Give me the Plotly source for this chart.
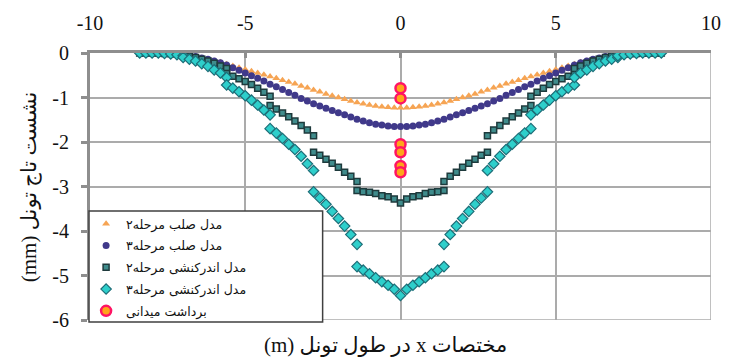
import plotly.graph_objects as go

# ---------------- data ----------------
x_smooth = [-8.4, -8.2, -8.0, -7.8, -7.6, -7.4, -7.2, -7.0, -6.8, -6.6, -6.4, -6.2, -6.0, -5.8, -5.6,
            -5.4, -5.2, -5.0, -4.8, -4.6, -4.4, -4.2, -4.0, -3.8, -3.6, -3.4, -3.2, -3.0, -2.8, -2.6,
            -2.4, -2.2, -2.0, -1.8, -1.6, -1.4, -1.2, -1.0, -0.8, -0.6, -0.4, -0.2, 0.0,
            0.2, 0.4, 0.6, 0.8, 1.0, 1.2, 1.4, 1.6, 1.8, 2.0, 2.2, 2.4, 2.6, 2.8, 3.0, 3.2, 3.4,
            3.6, 3.8, 4.0, 4.2, 4.4, 4.6, 4.8, 5.0, 5.2, 5.4, 5.6, 5.8, 6.0, 6.2, 6.4, 6.6, 6.8,
            7.0, 7.2, 7.4, 7.6, 7.8, 8.0, 8.2, 8.4]

rigid_stage2 = [0, 0, 0, -0.01, -0.01, -0.02, -0.03, -0.05, -0.07, -0.09, -0.12, -0.15, -0.18, -0.21,
                -0.25, -0.29, -0.33, -0.37, -0.41, -0.45, -0.49, -0.53, -0.57, -0.61, -0.65, -0.69,
                -0.74, -0.78, -0.83, -0.87, -0.92, -0.96, -1.00, -1.04, -1.08, -1.11, -1.14, -1.17,
                -1.19, -1.21, -1.22, -1.23, -1.23,
                -1.23, -1.22, -1.21, -1.19, -1.17, -1.14, -1.11, -1.08, -1.04, -1.00, -0.96, -0.92,
                -0.87, -0.83, -0.78, -0.74, -0.69, -0.65, -0.61, -0.57, -0.53, -0.49, -0.45, -0.41,
                -0.37, -0.33, -0.29, -0.25, -0.21, -0.18, -0.15, -0.12, -0.09, -0.07, -0.05, -0.03,
                -0.02, -0.01, -0.01, 0, 0, 0]

rigid_stage3 = [0, 0, 0, 0, -0.01, -0.01, -0.02, -0.03, -0.05, -0.08, -0.11, -0.14, -0.18, -0.22,
                -0.27, -0.33, -0.39, -0.45, -0.51, -0.57, -0.63, -0.70, -0.76, -0.82, -0.89, -0.95,
                -1.02, -1.08, -1.14, -1.19, -1.24, -1.29, -1.34, -1.39, -1.44, -1.49, -1.53, -1.57,
                -1.60, -1.62, -1.64, -1.65, -1.65,
                -1.65, -1.64, -1.62, -1.60, -1.57, -1.53, -1.49, -1.44, -1.39, -1.34, -1.29, -1.24,
                -1.19, -1.14, -1.08, -1.02, -0.95, -0.89, -0.82, -0.76, -0.70, -0.63, -0.57, -0.51,
                -0.45, -0.39, -0.33, -0.27, -0.22, -0.18, -0.14, -0.11, -0.08, -0.05, -0.03, -0.02,
                -0.01, -0.01, 0, 0, 0, 0]

x_staged = [-8.4, -8.2, -8.0, -7.8, -7.6, -7.4, -7.2, -7.0, -7.0, -6.8, -6.6, -6.4, -6.2, -6.0, -5.8,
            -5.6, -5.6, -5.4, -5.2, -5.0, -4.8, -4.6, -4.4, -4.2, -4.2, -4.0, -3.8, -3.6, -3.4, -3.2,
            -3.0, -2.8, -2.8, -2.6, -2.4, -2.2, -2.0, -1.8, -1.6, -1.4, -1.4, -1.2, -1.0, -0.8, -0.6,
            -0.4, -0.2, 0.0,
            0.2, 0.4, 0.6, 0.8, 1.0, 1.2, 1.4, 1.4, 1.6, 1.8, 2.0, 2.2, 2.4, 2.6, 2.8, 2.8, 3.0,
            3.2, 3.4, 3.6, 3.8, 4.0, 4.2, 4.2, 4.4, 4.6, 4.8, 5.0, 5.2, 5.4, 5.6, 5.6, 5.8, 6.0,
            6.2, 6.4, 6.6, 6.8, 7.0, 7.0, 7.2, 7.4, 7.6, 7.8, 8.0, 8.2, 8.4]

interaction_stage2 = [0, 0, 0, 0, -0.01, -0.01, -0.02, -0.03, -0.05, -0.07, -0.10, -0.14, -0.18, -0.23,
                      -0.29, -0.35, -0.46, -0.52, -0.58, -0.64, -0.71, -0.79, -0.88, -0.97, -1.18,
                      -1.26, -1.35, -1.43, -1.53, -1.63, -1.73, -1.86, -2.23, -2.30, -2.39, -2.48,
                      -2.57, -2.68, -2.77, -2.89, -3.09, -3.12, -3.13, -3.16, -3.21, -3.23, -3.28,
                      -3.37,
                      -3.28, -3.23, -3.21, -3.16, -3.13, -3.12, -3.09, -2.89, -2.77, -2.68, -2.57,
                      -2.48, -2.39, -2.30, -2.23, -1.86, -1.73, -1.63, -1.53, -1.43, -1.35, -1.26,
                      -1.18, -0.97, -0.88, -0.79, -0.71, -0.64, -0.58, -0.52, -0.46, -0.35, -0.29,
                      -0.23, -0.18, -0.14, -0.10, -0.07, -0.05, -0.03, -0.02, -0.01, -0.01, 0, 0, 0, 0]

interaction_stage3 = [0, 0, 0, 0, -0.01, -0.02, -0.04, -0.06, -0.10, -0.14, -0.18, -0.24, -0.30, -0.38,
                      -0.45, -0.55, -0.72, -0.79, -0.87, -0.96, -1.06, -1.17, -1.28, -1.39, -1.70,
                      -1.80, -1.92, -2.05, -2.17, -2.32, -2.49, -2.64, -3.12, -3.26, -3.40, -3.56,
                      -3.72, -3.89, -4.08, -4.30, -4.80, -4.88, -4.96, -5.05, -5.14, -5.22, -5.31,
                      -5.45,
                      -5.31, -5.22, -5.14, -5.05, -4.96, -4.88, -4.80, -4.30, -4.08, -3.89, -3.72,
                      -3.56, -3.40, -3.26, -3.12, -2.64, -2.49, -2.32, -2.17, -2.05, -1.92, -1.80,
                      -1.70, -1.39, -1.28, -1.17, -1.06, -0.96, -0.87, -0.79, -0.72, -0.55, -0.45,
                      -0.38, -0.30, -0.24, -0.18, -0.14, -0.10, -0.06, -0.04, -0.02, -0.01, 0, 0, 0, 0]

x_field = [0, 0, 0, 0, 0, 0]
field_measured = [-0.79, -1.02, -2.05, -2.23, -2.54, -2.68]

series_names = ["مدل صلب مرحله۲", "مدل صلب مرحله۳", "مدل اندرکنشی مرحله۲",
                "مدل اندرکنشی مرحله۳", "برداشت میدانی"]

x_tick_vals = [-10, -5, 0, 5, 10]
x_tick_text = ["-10", "-5", "0", "5", "10"]
y_tick_vals = [0, -1, -2, -3, -4, -5, -6]
y_tick_text = ["0", "-1", "-2", "-3", "-4", "-5", "-6"]

x_title = "مختصات x در طول تونل (m)"
y_title = "نشست تاج تونل (mm)"

# ---------------- figure ----------------
RLE, PDF = "\u202B", "\u202C"
SERIF = "Liberation Serif, DejaVu Sans"

fig = go.Figure()
fig.add_trace(go.Scatter(x=x_smooth, y=rigid_stage2, mode="markers", name=series_names[0],
                         legendgroup="g1",
                         marker=dict(symbol="triangle-up", size=7, color="#F6A453")))
fig.add_trace(go.Scatter(x=x_smooth, y=rigid_stage3, mode="markers", name=series_names[1],
                         legendgroup="g2",
                         marker=dict(symbol="circle", size=7, color="#40398A")))
fig.add_trace(go.Scatter(x=x_staged, y=interaction_stage2, mode="markers", name=series_names[2],
                         legendgroup="g3",
                         marker=dict(symbol="square", size=6, color="#3F8C8C",
                                     line=dict(color="#1E3A3C", width=1.5))))
fig.add_trace(go.Scatter(x=x_staged, y=interaction_stage3, mode="markers", name=series_names[3],
                         legendgroup="g4",
                         marker=dict(symbol="diamond", size=8, color="#2ECFCB",
                                     line=dict(color="#1D6E78", width=1.2))))
fig.add_trace(go.Scatter(x=x_field, y=field_measured, mode="markers", name=series_names[4],
                         legendgroup="g5",
                         marker=dict(symbol="circle", size=10, color="#FFA51A",
                                     line=dict(color="#FF1464", width=2.5))))

grid_col = "#ABABAB"
axis_col = "#8E8E8E"

fig.update_xaxes(range=[-10, 10], side="top", tickmode="array", tickvals=x_tick_vals,
                 ticktext=x_tick_text, showline=True, linecolor=axis_col, linewidth=3,
                 ticks="inside", ticklen=5, tickwidth=2.5, tickcolor=axis_col,
                 showgrid=True, gridcolor=grid_col, gridwidth=1.5, zeroline=False,
                 tickfont=dict(family=SERIF, size=20, color="#111111"),
                 ticklabelstandoff=12, fixedrange=True)
fig.update_yaxes(range=[-6, 0], tickmode="array", tickvals=y_tick_vals, ticktext=y_tick_text,
                 showline=True, linecolor=axis_col, linewidth=3,
                 ticks="outside", ticklen=6, tickwidth=2.5, tickcolor=axis_col,
                 showgrid=True, gridcolor=grid_col, gridwidth=1.5, zeroline=False,
                 tickfont=dict(family=SERIF, size=20, color="#111111"),
                 ticklabelstandoff=8, fixedrange=True)

shapes = [
    dict(type="line", xref="x", yref="paper", x0=10, x1=10, y0=0, y1=1,
         line=dict(color=grid_col, width=1.5), layer="below"),
    dict(type="line", xref="paper", yref="y", x0=0, x1=1, y0=-6, y1=-6,
         line=dict(color=grid_col, width=1.5), layer="below"),
    dict(type="rect", xref="paper", yref="paper", x0=-0.0016, x1=0.3746, y0=-0.0074, y1=0.408,
         fillcolor="white", line=dict(color="#404040", width=1.5), layer="above"),
]

annotations = [
    dict(text=RLE + x_title + PDF, xref="paper", yref="paper", x=0.476, y=-0.095,
         xanchor="center", yanchor="middle", showarrow=False,
         font=dict(family=SERIF, size=21, color="#111111")),
    dict(text=RLE + y_title + PDF, xref="paper", yref="paper", x=-0.097, y=0.5,
         xanchor="center", yanchor="middle", showarrow=False, textangle=-90,
         font=dict(family=SERIF, size=21, color="#111111")),
]

fig.update_layout(
    width=733, height=362,
    margin=dict(l=90, r=13, t=48, b=42),
    paper_bgcolor="white", plot_bgcolor="white",
    shapes=shapes, annotations=annotations,
    showlegend=True,
    legend=dict(x=-0.0063, y=0.415, xanchor="left", yanchor="top",
                bgcolor="rgba(0,0,0,0)", borderwidth=0, tracegroupgap=2.5,
                font=dict(family="DejaVu Sans", size=12.5, color="#111111")),
)

fig.write_html("out.html", config={"displayModeBar": False})
